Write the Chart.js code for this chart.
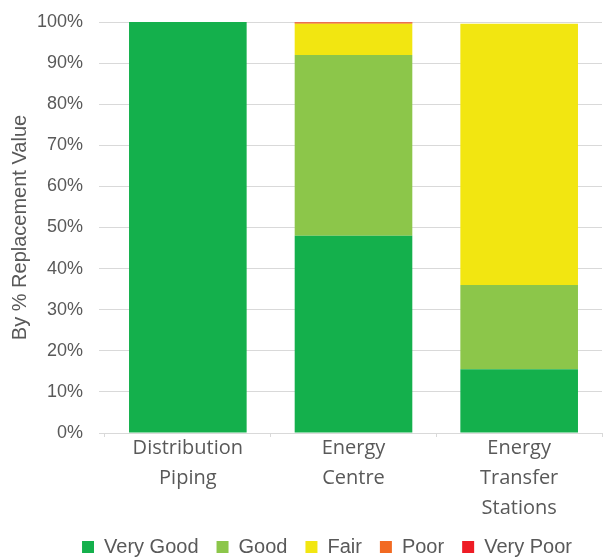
<!DOCTYPE html>
<html lang="en">
<head>
<meta charset="UTF-8">
<title>Condition by % Replacement Value</title>
<script src="https://cdn.jsdelivr.net/npm/chart.js"></script>
<style>
  body { margin: 0; background: #fff; }
  #wrap { width: 611px; height: 560px; }
</style>
</head>
<body>
<div id="wrap"><canvas id="condition-chart"></canvas></div>
<script>
var categories = [['Distribution', 'Piping'], ['Energy', 'Centre'], ['Energy', 'Transfer', 'Stations']];

var veryGood = [100, 48, 15.5];
var good = [0, 44, 20.5];
var fair = [0, 7.6, 63.6];
var poor = [0, 0.3, 0];
var veryPoor = [0, 0.1, 0];

var yTicks = [0, 10, 20, 30, 40, 50, 60, 70, 80, 90, 100];

function series(label, data, color) {
    return {
        label: label,
        data: data,
        backgroundColor: color,
        borderWidth: 0,
        barPercentage: 0.71,
        categoryPercentage: 1
    };
}

// nudge the legend row to the right, under the bars
var legendShift = {
    id: 'legendShift',
    afterLayout: function(chart) {
        chart.legend.left += 22;
        chart.legend.right += 22;
    }
};

var ctx = document.getElementById('condition-chart').getContext('2d');
var chart = new Chart(ctx, {
    type: 'bar',
    data: {
        labels: categories,
        datasets: [
            series('Very Good', veryGood, '#14b04c'),
            series('Good', good, '#8cc64a'),
            series('Fair', fair, '#f2e611'),
            series('Poor', poor, '#f26a22'),
            series('Very Poor', veryPoor, '#ee1c25')
        ]
    },
    plugins: [legendShift],
    options: {
        responsive: true,
        maintainAspectRatio: false,
        animation: false,
        layout: { padding: { top: 2, right: 9, left: 8, bottom: -7 } },
        plugins: {
            tooltip: { enabled: false },
            legend: {
                position: 'bottom',
                labels: {
                    color: '#595959',
                    font: { family: 'Liberation Sans', size: 20 },
                    boxWidth: 12,
                    boxHeight: 12,
                    padding: 18
                }
            }
        },
        scales: {
            x: {
                stacked: true,
                grid: {
                    drawOnChartArea: false,
                    color: '#d9d9d9',
                    tickLength: 4
                },
                border: { color: '#d9d9d9' },
                ticks: {
                    color: '#595959',
                    font: { family: 'Open Sans', size: 20, lineHeight: 1.5 },
                    maxRotation: 0,
                    padding: -4
                }
            },
            y: {
                stacked: true,
                min: 0,
                max: 100,
                afterBuildTicks: function(axis) {
                    axis.ticks = yTicks.map(function(v) { return { value: v }; });
                },
                afterFit: function(axis) {
                    axis.width = 97;
                    axis.paddingTop = 22;
                },
                grid: {
                    color: '#d9d9d9',
                    tickLength: 6
                },
                border: { display: false },
                ticks: {
                    color: '#595959',
                    font: { family: 'Liberation Sans', size: 18 },
                    padding: 16,
                    callback: function(v) { return v + '%'; }
                },
                title: {
                    display: true,
                    text: 'By % Replacement Value',
                    color: '#595959',
                    font: { family: 'Liberation Sans', size: 20 },
                    padding: { top: 0, bottom: 6 }
                }
            }
        }
    }
});
</script>
</body>
</html>
